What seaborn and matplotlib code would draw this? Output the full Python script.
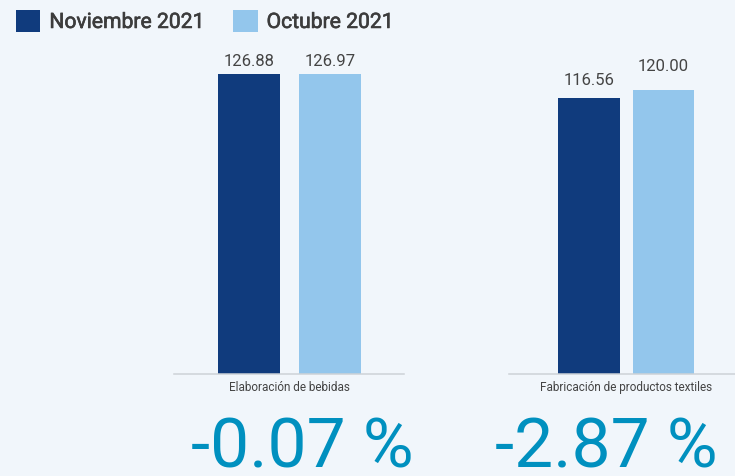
import matplotlib
matplotlib.use("Agg")
import matplotlib.pyplot as plt
import matplotlib.patheffects as pe
import seaborn as sns
import pandas as pd


categories = ["Elaboración de bebidas", "Fabricación de productos textiles"]
months = ["Noviembre 2021", "Octubre 2021"]
nov_values = [126.88, 116.56]
oct_values = [126.97, 120.00]
pct_changes = ["-0.07 %", "-2.87 %"]

BG = "#F1F6FB"
PALETTE = ["#103B7D", "#93C6EC"]
TEXT = "#444444"

df = pd.DataFrame({
    "categoria": categories * 2,
    "periodo": [months[0]] * 2 + [months[1]] * 2,
    "valor": nov_values + oct_values,
})

sns.set_theme(style="white")
plt.rcParams["font.family"] = ["Roboto", "DejaVu Sans"]

W, H = 735, 476
fig = plt.figure(figsize=(W / 100, H / 100), dpi=100)
fig.patch.set_facecolor(BG)


def px_axes(x0, x1, top, bottom):
    return fig.add_axes([x0 / W, (H - bottom) / H, (x1 - x0) / W, (bottom - top) / H])


# (left px, right px, gap, xlim, label paddings)
panels = [
    (174, 404, 0.24, (-0.568, 0.561), (3.2, 3.2)),
    (509, 739, 0.17, (-0.630, 0.605), (7.2, 11.6)),
]
text_centers = [302, 606]

legend_handles = None
legend_labels = None

for i, (x0, x1, gap, xlim, pads) in enumerate(panels):
    ax = px_axes(x0, x1, 50, 374)
    ax.set_facecolor(BG)
    sns.barplot(
        data=df[df["categoria"] == categories[i]],
        x="categoria",
        y="valor",
        hue="periodo",
        hue_order=months,
        palette=PALETTE,
        saturation=1,
        errorbar=None,
        gap=gap,
        linewidth=0,
        ax=ax,
    )
    leg = ax.get_legend()
    if legend_handles is None:
        legend_handles = leg.legend_handles
        legend_labels = [t.get_text() for t in leg.get_texts()]
    leg.remove()

    for cont, pad in zip(ax.containers, pads):
        ax.bar_label(cont, fmt="%.2f", padding=pad, fontsize=12, color=TEXT)

    ax.set_xlim(*xlim)
    ax.set_ylim(0, 137)
    ax.set_xlabel("")
    ax.set_ylabel("")
    ax.set_yticks([])
    ax.tick_params(axis="x", length=0, pad=5.2, labelsize=8.5, labelcolor=TEXT)
    for side in ["left", "right", "top"]:
        ax.spines[side].set_visible(False)
    ax.spines["bottom"].set_color("#CDD2D7")
    ax.spines["bottom"].set_linewidth(1.1)

    fig.text(
        text_centers[i] / W,
        (H - 467) / H,
        pct_changes[i],
        ha="center",
        va="baseline",
        fontsize=50,
        color="#0090BF",
    )

leg = fig.legend(
    legend_handles,
    legend_labels,
    loc="upper left",
    bbox_to_anchor=(16 / W, 1 - 10 / H),
    ncol=2,
    frameon=False,
    borderpad=0,
    borderaxespad=0,
    handlelength=1.15,
    handleheight=1.2,
    handletextpad=0.43,
    columnspacing=1.35,
    prop={"size": 15.2},
    labelcolor="#3C3C3C",
)
# a little heavier than regular, like the medium weight in the original
for t in leg.get_texts():
    t.set_path_effects([pe.withStroke(linewidth=0.45, foreground="#3C3C3C")])

fig.savefig("out.png", dpi=100, facecolor=BG)
